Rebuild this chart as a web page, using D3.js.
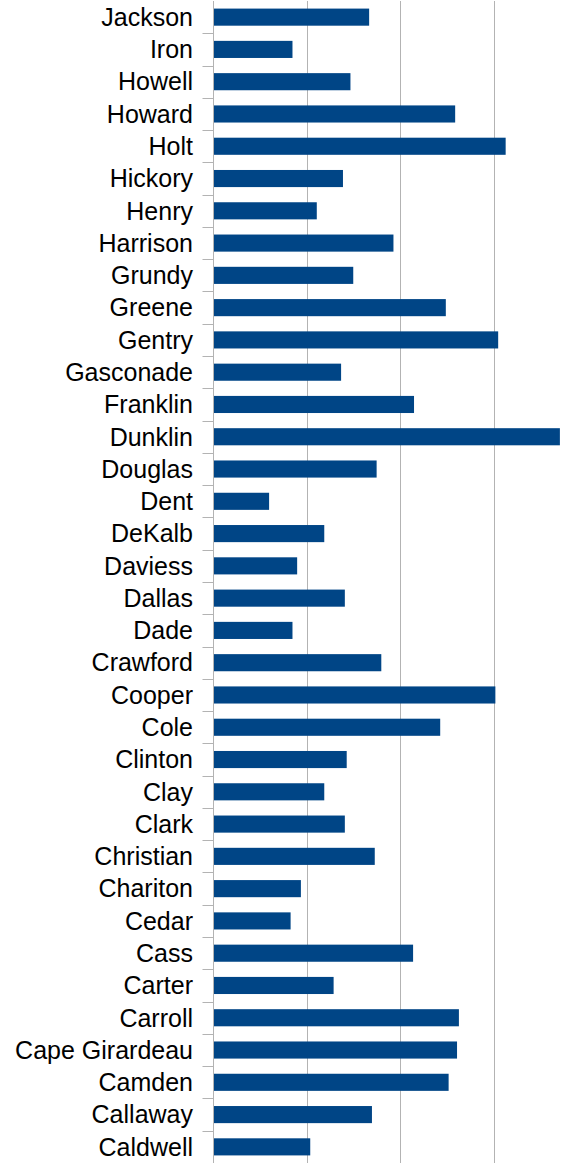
<!DOCTYPE html>
<html>
<head>
<meta charset="utf-8">
<script src="https://cdn.jsdelivr.net/npm/d3@7"></script>
<style>
  body { margin: 0; background: #fff; }
</style>
</head>
<body>
<div id="chart"></div>
<script>
// Data (top to bottom, as shown)
const counties = ["Jackson","Iron","Howell","Howard","Holt","Hickory","Henry","Harrison","Grundy","Greene",
  "Gentry","Gasconade","Franklin","Dunklin","Douglas","Dent","DeKalb","Daviess","Dallas","Dade",
  "Crawford","Cooper","Cole","Clinton","Clay","Clark","Christian","Chariton","Cedar","Cass",
  "Carter","Carroll","Cape Girardeau","Camden","Callaway","Caldwell"];
const values = [16.7, 8.5, 14.7, 25.9, 31.3, 13.9, 11.1, 19.3, 15.0, 24.9,
  30.5, 13.7, 21.5, 37.1, 17.5, 6.0, 11.9, 9.0, 14.1, 8.5,
  18.0, 30.2, 24.3, 14.3, 11.9, 14.1, 17.3, 9.4, 8.3, 21.4,
  12.9, 26.3, 26.1, 25.2, 17.0, 10.4];
const gridTicks = [10, 20, 30, 40];

const W = 564, H = 1163;
const margin = {top: 1, right: 0, bottom: 0, left: 213};

const svg = d3.select("#chart")
  .append("svg")
    .attr("width", W)
    .attr("height", H);

const x = d3.scaleLinear()
  .domain([0, 40])
  .range([margin.left, margin.left + 374]);

const y = d3.scaleBand()
  .domain(counties)
  .range([margin.top, H - margin.bottom])
  .paddingInner(0.47)
  .paddingOuter(0.235);

// gridlines
svg.append("g")
  .selectAll("line")
  .data(gridTicks)
  .enter().append("line")
    .attr("x1", d => Math.round(x(d)) + 0.5)
    .attr("x2", d => Math.round(x(d)) + 0.5)
    .attr("y1", margin.top)
    .attr("y2", H)
    .attr("stroke", "#b3b3b3");

// bars
svg.append("g")
  .selectAll("rect")
  .data(counties)
  .enter().append("rect")
    .attr("x", x(0))
    .attr("y", d => y(d))
    .attr("width", (d, i) => x(values[i]) - x(0))
    .attr("height", y.bandwidth())
    .attr("fill", "#004586");

// category axis
const yAxis = svg.append("g")
  .attr("transform", `translate(${margin.left + 0.5},0)`);
yAxis.append("line")
  .attr("y1", margin.top).attr("y2", H)
  .attr("stroke", "#b3b3b3");
const step = y.step();
const bounds = d3.range(1, counties.length).map(i => y(counties[i]) - (step - y.bandwidth()) / 2);
yAxis.selectAll(".tick")
  .data(bounds)
  .enter().append("line")
    .attr("x1", -11).attr("x2", 0)
    .attr("y1", d => Math.round(d) + 0.5)
    .attr("y2", d => Math.round(d) + 0.5)
    .attr("stroke", "#b3b3b3");

svg.append("g")
  .selectAll("text")
  .data(counties)
  .enter().append("text")
    .attr("x", margin.left - 20)
    .attr("y", d => y(d) + y.bandwidth() / 2)
    .attr("dy", "0.35em")
    .attr("text-anchor", "end")
    .style("font-family", "'Liberation Sans', Arial, sans-serif")
    .style("font-size", "25px")
    .style("fill", "#000")
    .text(d => d);
</script>
</body>
</html>
